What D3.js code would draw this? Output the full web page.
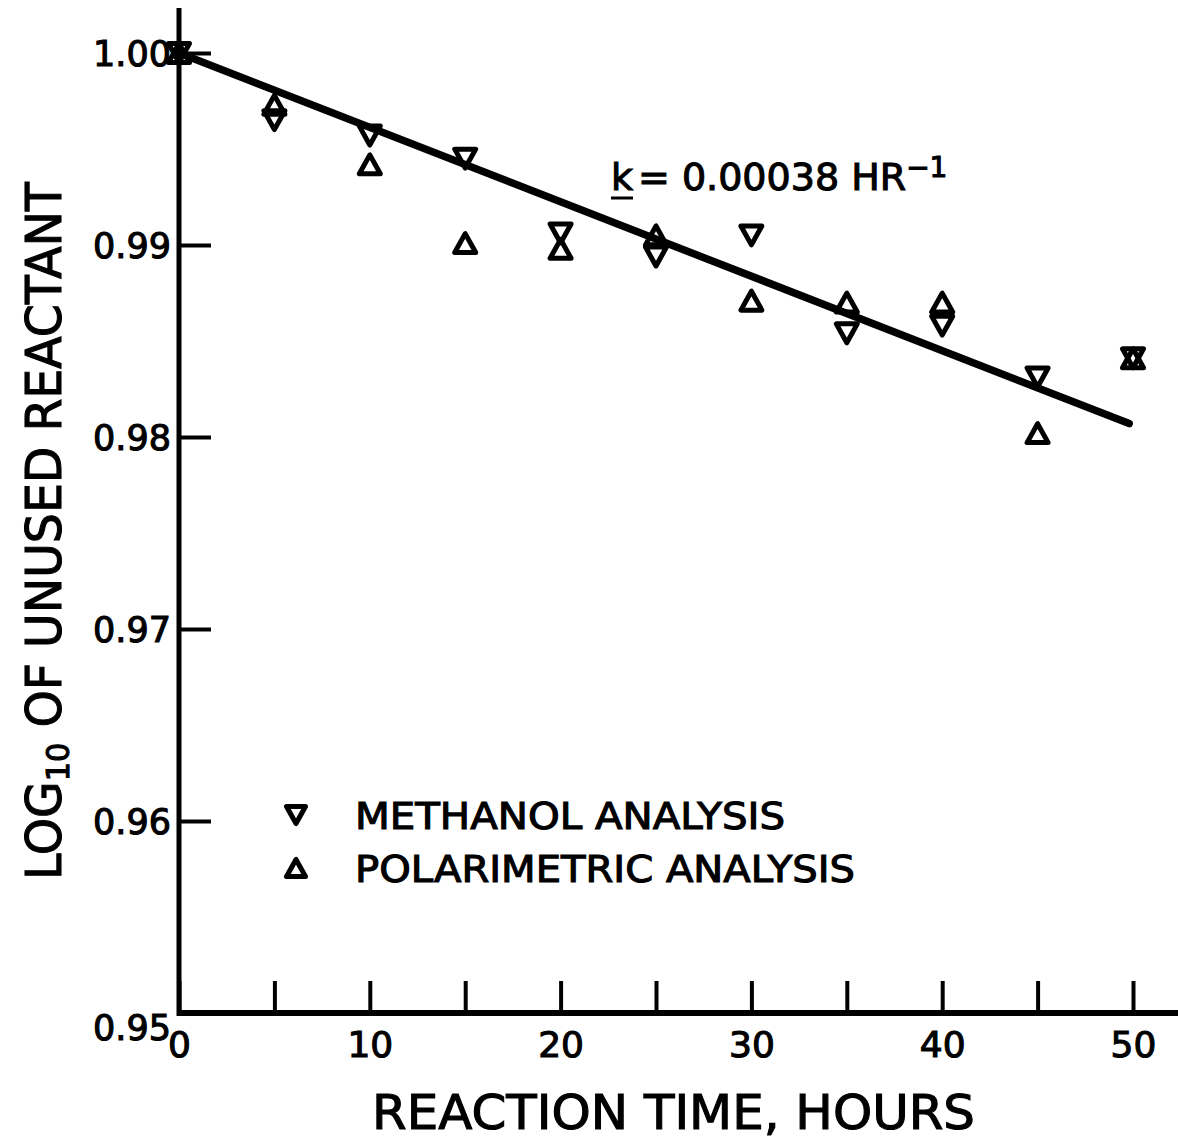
<!DOCTYPE html>
<html>
<head>
<meta charset="utf-8">
<script src="https://cdn.jsdelivr.net/npm/d3@7"></script>
<style>
  body { margin: 0; background: #fff; }
  svg { display: block; }
  text { font-family: "DejaVu Sans", sans-serif; fill: #000; stroke: #000; stroke-width: 1.1px; }
</style>
</head>
<body>
<svg id="chart" width="1178" height="1141"></svg>
<script>
// Reaction time (hours) and log10 of unused reactant for both analyses
const hours = [0, 5, 10, 15, 20, 25, 30, 35, 40, 45, 50];
const methanol = [1.0000, 0.9965, 0.9957, 0.9945, 0.9906, 0.9894, 0.9905, 0.9854, 0.9858, 0.9831, 0.9841];
const polarimetric = [1.0000, 0.9973, 0.9942, 0.9901, 0.9898, 0.9905, 0.9871, 0.9870, 0.9870, 0.9802, 0.9841];

// Fitted straight line (hours, log10 value)
const fitLine = [[0, 1.0000], [49.8, 0.9807]];

const xTicks = [0, 5, 10, 15, 20, 25, 30, 35, 40, 45, 50];
const xTickLabels = [0, 10, 20, 30, 40, 50];
const yTicks = [0.95, 0.96, 0.97, 0.98, 0.99, 1.00];

const svg = d3.select("#chart");

const x = d3.scaleLinear().domain([0, 50]).range([179, 1133]);
const y = d3.scaleLinear().domain([0.95, 1.00]).range([1013, 53]);

const axisTop = 8;
const axisRight = 1178;

// Y axis: ticks point into the plot, labels on the left
const yAxis = svg.append("g")
  .attr("transform", `translate(${x(0)},0)`)
  .call(d3.axisLeft(y).tickValues(yTicks).tickSize(-32).tickPadding(8)
    .tickFormat(d3.format(".2f")));
yAxis.select(".domain").remove();
yAxis.selectAll(".tick line").attr("stroke", "#000").attr("stroke-width", 4);
yAxis.selectAll(".tick text")
  .attr("font-size", 35)
  .attr("dy", d => d === 0.95 ? "0.75em" : "0.36em")
  .attr("font-family", null);

// X axis: ticks point up into the plot, labels below every 10 hours
const xAxis = svg.append("g")
  .attr("transform", `translate(0,${y(0.95)})`)
  .call(d3.axisBottom(x).tickValues(xTicks).tickSize(-32).tickPadding(10)
    .tickFormat(d => xTickLabels.includes(d) ? d3.format("d")(d) : ""));
xAxis.select(".domain").remove();
xAxis.selectAll(".tick line").attr("stroke", "#000").attr("stroke-width", 4);
xAxis.selectAll(".tick text")
  .attr("font-size", 36)
  .attr("dy", "0.95em")
  .attr("font-family", null);

// Axis lines
svg.append("line")
  .attr("x1", x(0)).attr("x2", x(0))
  .attr("y1", axisTop).attr("y2", y(0.95) + 3)
  .attr("stroke", "#000").attr("stroke-width", 5);
svg.append("line")
  .attr("x1", x(0) - 2).attr("x2", axisRight)
  .attr("y1", y(0.95)).attr("y2", y(0.95))
  .attr("stroke", "#000").attr("stroke-width", 6);

// Fitted line
svg.append("path")
  .datum(fitLine)
  .attr("d", d3.line().x(d => x(d[0])).y(d => y(d[1])))
  .attr("fill", "none")
  .attr("stroke", "#000")
  .attr("stroke-width", 7.5)
  .attr("stroke-linecap", "round");

// Triangle marker outline centred on its bounding box
function triangle(w, down) {
  const h = w * 0.9;
  return down
    ? `M${-w / 2},${-h / 2}L${w / 2},${-h / 2}L0,${h / 2}Z`
    : `M${-w / 2},${h / 2}L${w / 2},${h / 2}L0,${-h / 2}Z`;
}

const markerW = 21;
const markerStyle = sel => sel
  .attr("fill", "none")
  .attr("stroke", "#000")
  .attr("stroke-width", 5)
  .attr("stroke-linejoin", "round");

svg.append("g").selectAll("path")
  .data(hours.map((h, i) => [h, methanol[i]]))
  .join("path")
  .attr("d", triangle(markerW, true))
  .attr("transform", d => `translate(${x(d[0])},${y(d[1])})`)
  .call(markerStyle);

svg.append("g").selectAll("path")
  .data(hours.map((h, i) => [h, polarimetric[i]]))
  .join("path")
  .attr("d", triangle(markerW, false))
  .attr("transform", d => `translate(${x(d[0])},${y(d[1])})`)
  .call(markerStyle);

// Legend
const legend = [
  { label: "METHANOL ANALYSIS", down: true, cy: 815, len: 430 },
  { label: "POLARIMETRIC ANALYSIS", down: false, cy: 868, len: 500 }
];
legend.forEach(item => {
  svg.append("path")
    .attr("d", triangle(markerW - 2, item.down))
    .attr("transform", `translate(296,${item.cy})`)
    .call(markerStyle);
  svg.append("text")
    .attr("x", 355).attr("y", item.cy + 14)
    .attr("font-size", 37)
    .attr("textLength", item.len)
    .attr("lengthAdjust", "spacingAndGlyphs")
    .text(item.label);
});

// Rate constant annotation
const kText = svg.append("text")
  .attr("x", 611).attr("y", 190)
  .attr("font-size", 38)
  .text("k");
const kBox = kText.node().getBBox();
svg.append("line")
  .attr("x1", kBox.x).attr("x2", kBox.x + kBox.width)
  .attr("y1", 198).attr("y2", 198)
  .attr("stroke", "#000").attr("stroke-width", 3);
const kVal = svg.append("text")
  .attr("x", 638).attr("y", 190)
  .attr("font-size", 38);
kVal.append("tspan").text("= 0.00038  HR");
kVal.append("tspan").attr("font-size", 28).attr("dy", -13).text("−1");

// Axis titles
svg.append("text")
  .attr("x", 372).attr("y", 1129)
  .attr("font-size", 48)
  .attr("textLength", 603)
  .attr("lengthAdjust", "spacingAndGlyphs")
  .text("REACTION TIME, HOURS");

const yTitle = svg.append("text")
  .attr("transform", "translate(61,880) rotate(-90)")
  .attr("font-size", 50)
  .attr("textLength", 698)
  .attr("lengthAdjust", "spacingAndGlyphs");
yTitle.append("tspan").text("LOG");
yTitle.append("tspan").attr("font-size", 32).attr("dy", 8).text("10");
yTitle.append("tspan").attr("dy", -8).text(" OF UNUSED REACTANT");
</script>
</body>
</html>
